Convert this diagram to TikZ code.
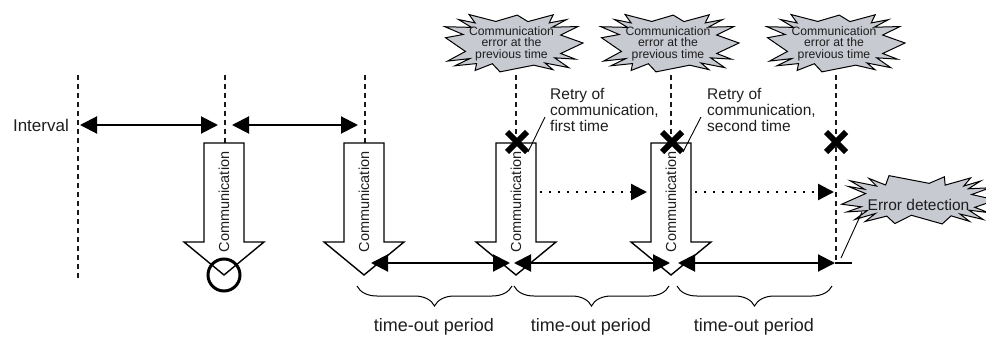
\documentclass[tikz,border=0pt]{standalone}
\usepackage{fontspec}
\setmainfont{Liberation Sans}
\usetikzlibrary{arrows.meta,decorations.pathreplacing}
\definecolor{burstfill}{RGB}{200,202,210}
\definecolor{txt}{RGB}{30,30,30}
\tikzset{
  vdash/.style={draw=black!90, line width=1.2pt, dash pattern=on 5pt off 4pt},
  dblarr/.style={line width=2pt, {Triangle[length=17pt,width=17pt]}-{Triangle[length=17pt,width=17pt]}},
  dotarr/.style={line width=2.4pt, dash pattern=on 2.4pt off 6.6pt, -{Triangle[length=16pt,width=16pt]}},
  crossline/.style={line width=6pt},
  leader/.style={line width=0.9pt},
  burstline/.style={draw, fill=burstfill, line width=1pt, line join=miter},
  bursttext/.style={align=center, text=txt, inner sep=0pt, font=\fontsize{12.2}{11.5}\selectfont},
  bracestyle/.style={decorate, decoration={brace, mirror, amplitude=20pt}, line width=1pt},
  commtext/.style={rotate=90, font=\fontsize{14.5}{15}\selectfont, text=txt, inner sep=0pt},
  lbl/.style={font=\fontsize{15.5}{16}\selectfont, text=txt, align=left, inner sep=0pt},
  periodlbl/.style={font=\fontsize{18}{18}\selectfont, text=txt, inner sep=0pt},
  commarrow/.pic={
    \draw[fill=white, line width=1.4pt, line join=miter]
      (-20,0) -- (20,0) -- (20,99) -- (40,99) -- (0,132) -- (-40,99) -- (-20,99) -- cycle;
    \node[commtext] (-label) at (0,59) {Communication};
  }
}
% jagged burst outline on a squarish ellipse:
% #1 center x, #2 center y, #3 radius x, #4 radius y, #5 number of vertices, #6 inner x factor, #7 inner y factor
\newcommand\myburst[7]{%
  \begin{scope}[shift={(#1,#2)}]
    \draw[burstline] (#3,0)
      \foreach \k [evaluate=\k as \a using {\k*360/#5+3*sin(\k*97)},
                   evaluate=\k as \px using {#3*cos(\a)*pow(abs(cos(\a))+0.001,-0.45)*ifthenelse(mod(\k,2)==0, 1-0.07*abs(sin(\k*131)), #6+0.03*sin(\k*71))},
                   evaluate=\k as \py using {#4*sin(\a)*pow(abs(sin(\a))+0.001,-0.45)*ifthenelse(mod(\k,2)==0, 1-0.07*abs(sin(\k*131)), #7+0.03*sin(\k*71))}]
        in {1,...,\numexpr#5-1\relax} { -- (\px,\py) } -- cycle;
  \end{scope}}
\begin{document}
\begin{tikzpicture}[x=1pt, y=-1pt]
\useasboundingbox (0,0) rectangle (986,340);

% dashed vertical guides
\coordinate (d0t) at (78,75);   \coordinate (d0b) at (78,281);
\coordinate (d1t) at (225,75);  \coordinate (d1b) at (225,143);
\coordinate (d2t) at (365,75);  \coordinate (d2b) at (365,143);
\coordinate (d3t) at (516,75);  \coordinate (d3b) at (516,143);
\coordinate (d4t) at (671,75);  \coordinate (d4b) at (671,143);
\coordinate (d5t) at (836,75);  \coordinate (d5b) at (836,262);
\foreach \i in {0,...,5} \draw[vdash] (d\i t) -- (d\i b);

% interval
\node[font=\fontsize{17}{17}\selectfont, text=txt, anchor=east, inner sep=0pt] (interval) at (69,125) {Interval};
\coordinate (i1a) at (80,125);  \coordinate (i1b) at (218,125);
\coordinate (i2a) at (232,125); \coordinate (i2b) at (358,125);
\draw[dblarr] (i1a) -- (i1b);
\draw[dblarr] (i2a) -- (i2b);

% communication arrows
\pic (c1) at (224,143) {commarrow};
\pic (c2) at (364,143) {commarrow};
\pic (c3) at (516,143) {commarrow};
\pic (c4) at (671,143) {commarrow};

% success circle
\node[circle, draw, line width=3pt, minimum size=32pt, inner sep=0pt] (ok) at (224,275) {};

% bursts
\myburst{512}{43}{71}{30}{32}{0.67}{0.73}
\myburst{668}{43}{71}{30}{32}{0.67}{0.73}
\myburst{834}{43}{71}{30}{32}{0.67}{0.73}
\myburst{918}{200}{78}{25}{36}{0.71}{0.64}
\node[bursttext] (b1) at (511.5,43.5) {Communication\\error at the\\previous time};
\node[bursttext] (b2) at (668,43.5) {Communication\\error at the\\previous time};
\node[bursttext] (b3) at (834,43.5) {Communication\\error at the\\previous time};
\node[bursttext, font=\fontsize{15.5}{16}\selectfont] (err) at (918.5,205) {Error detection};

% crosses
\foreach \n/\x in {x1/517, x2/672, x3/836}{
  \coordinate (\n) at (\x,142);
  \draw[crossline] ([shift={(-10,-10)}]\n) -- ([shift={(10,10)}]\n);
  \draw[crossline] ([shift={(-10,10)}]\n) -- ([shift={(10,-10)}]\n);
}

% retry labels
\node[lbl, anchor=north west] (r1) at (550,88) {Retry of\\communication,\\first time};
\node[lbl, anchor=north west] (r2) at (707,88) {Retry of\\communication,\\second time};
\coordinate (r1a) at (528,152); \coordinate (r1b) at (545,117);
\coordinate (r2a) at (683,152); \coordinate (r2b) at (701,117);
\draw[leader] (r1a) -- (r1b);
\draw[leader] (r2a) -- (r2b);

% dotted arrows
\coordinate (p1a) at (540,192); \coordinate (p1b) at (647,192);
\coordinate (p2a) at (695,192); \coordinate (p2b) at (834,192);
\draw[dotarr] (p1a) -- (p1b);
\draw[dotarr] (p2a) -- (p2b);

% time-out arrows
\coordinate (t1a) at (371,263); \coordinate (t1b) at (510,263);
\coordinate (t2a) at (514,263); \coordinate (t2b) at (670,263);
\coordinate (t3a) at (678,263); \coordinate (t3b) at (835,263);
\coordinate (t3c) at (852,263);
\draw[dblarr] (t1a) -- (t1b);
\draw[dblarr] (t2a) -- (t2b);
\draw[dblarr] (t3a) -- (t3b);
\draw[line width=2pt] (t3b) -- (t3c);

% error leader
\coordinate (ela) at (841,258); \coordinate (elb) at (862,212);
\draw[leader] (ela) -- (elb);

% braces
\coordinate (br1a) at (357,286); \coordinate (br1b) at (512,286);
\coordinate (br2a) at (514,286); \coordinate (br2b) at (669,286);
\coordinate (br3a) at (677,286); \coordinate (br3b) at (832,286);
\draw[bracestyle] (br1a) -- (br1b);
\draw[bracestyle] (br2a) -- (br2b);
\draw[bracestyle] (br3a) -- (br3b);
\node[periodlbl] (tp1) at (434,327) {time-out period};
\node[periodlbl] (tp2) at (591,327) {time-out period};
\node[periodlbl] (tp3) at (754,327) {time-out period};
\end{tikzpicture}
\end{document}
